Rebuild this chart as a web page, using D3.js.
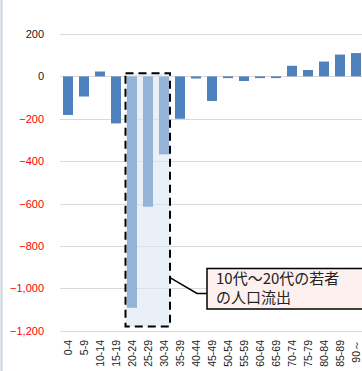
<!DOCTYPE html>
<html>
<head>
<meta charset="utf-8">
<script src="https://cdn.jsdelivr.net/npm/d3@7"></script>
<style>
  html, body { margin: 0; padding: 0; background: #fff; }
  svg { display: block; }
</style>
</head>
<body>
<svg id="chart" width="362" height="371"></svg>
<script>
// Net migration by age group (persons)
const categories = ["0-4","5-9","10-14","15-19","20-24","25-29","30-34","35-39","40-44","45-49",
                    "50-54","55-59","60-64","65-69","70-74","75-79","80-84","85-89","90～"];
const values = [-182, -95, 23, -222, -1092, -615, -368, -200, -10, -116,
                -8, -22, -8, -8, 50, 30, 70, 103, 110];
const highlighted = ["20-24","25-29","30-34"];
const yTicks = [200, 0, -200, -400, -600, -800, -1000, -1200];
const calloutLines = ["10代～20代の若者", "の人口流出"];

const svg = d3.select("#chart");

const x = d3.scaleBand()
  .domain(categories)
  .range([60, 364])
  .paddingInner(0.375)
  .paddingOuter(0.1875);

const y = d3.scaleLinear()
  .domain([-1200, 200])
  .range([330.7, 34]);

// thin frame line on the left edge
svg.append("line")
  .attr("x1", 1.5).attr("x2", 1.5)
  .attr("y1", 0).attr("y2", 371)
  .attr("stroke", "#c9d3e0").attr("stroke-width", 2);

// gridlines
svg.append("g")
  .selectAll("line")
  .data(yTicks)
  .join("line")
  .attr("x1", 60).attr("x2", 364)
  .attr("y1", d => Math.round(y(d)) + 0.5)
  .attr("y2", d => Math.round(y(d)) + 0.5)
  .attr("stroke", "#d9d9d9")
  .attr("stroke-width", 1.2);

// y-axis labels: negatives in red
const yAxis = d3.axisLeft(y).tickValues(yTicks).tickSize(0).tickPadding(0)
  .tickFormat(d3.format(","));
const yg = svg.append("g")
  .attr("transform", "translate(44,0)")
  .call(yAxis);
yg.select(".domain").remove();
yg.selectAll("text")
  .attr("font-family", "'Liberation Sans', Arial, sans-serif")
  .attr("font-size", 11)
  .attr("fill", d => d < 0 ? "#ff0000" : "#222");

// highlight box around the young-adult groups
const hx0 = x("20-24") - 1.5;
const hx1 = x("30-34") + x.bandwidth() + 1;
const hy0 = y(15);
const hy1 = y(-1180);
svg.append("rect")
  .attr("x", hx0).attr("y", hy0)
  .attr("width", hx1 - hx0).attr("height", hy1 - hy0)
  .attr("fill", "#dce6f2").attr("fill-opacity", 0.6);

// bars
svg.append("g")
  .selectAll("rect")
  .data(categories.map((c, i) => ({ c, v: values[i] })))
  .join("rect")
  .attr("x", d => x(d.c))
  .attr("width", x.bandwidth())
  .attr("y", d => y(Math.max(0, d.v)))
  .attr("height", d => Math.abs(y(d.v) - y(0)))
  .attr("fill", d => highlighted.includes(d.c) ? "#95b3d7" : "#4f81bd");

// dashed border of the highlight box
svg.append("rect")
  .attr("x", hx0).attr("y", hy0)
  .attr("width", hx1 - hx0).attr("height", hy1 - hy0)
  .attr("fill", "none")
  .attr("stroke", "#000")
  .attr("stroke-width", 2)
  .attr("stroke-dasharray", "8,5");

// category labels, rotated
svg.append("g")
  .selectAll("text")
  .data(categories)
  .join("text")
  .attr("transform", d => `translate(${x(d) + x.bandwidth() / 2 + 3.8},340) rotate(-90)`)
  .attr("text-anchor", "end")
  .attr("font-family", "'Liberation Sans', Arial, sans-serif")
  .attr("font-size", 10.5)
  .attr("fill", "#222")
  .text(d => d);

// callout with connector
const cx = 207, cy = 268.5, cw = 170, ch = 40.5;
svg.append("polyline")
  .attr("points", `${hx1},${y(-950)} 197,${cy + 25} ${cx},${cy + 25}`)
  .attr("fill", "none")
  .attr("stroke", "#000")
  .attr("stroke-width", 1.5);
svg.append("rect")
  .attr("x", cx).attr("y", cy)
  .attr("width", cw).attr("height", ch)
  .attr("fill", "#fdf1ef")
  .attr("stroke", "#000")
  .attr("stroke-width", 1.5);
svg.append("g")
  .selectAll("text")
  .data(calloutLines)
  .join("text")
  .attr("x", cx + 9)
  .attr("y", (d, i) => cy + 15 + i * 19.5)
  .attr("font-family", "'Noto Sans CJK JP', sans-serif")
  .attr("font-size", 15)
  .attr("fill", "#222")
  .text(d => d);
</script>
</body>
</html>
